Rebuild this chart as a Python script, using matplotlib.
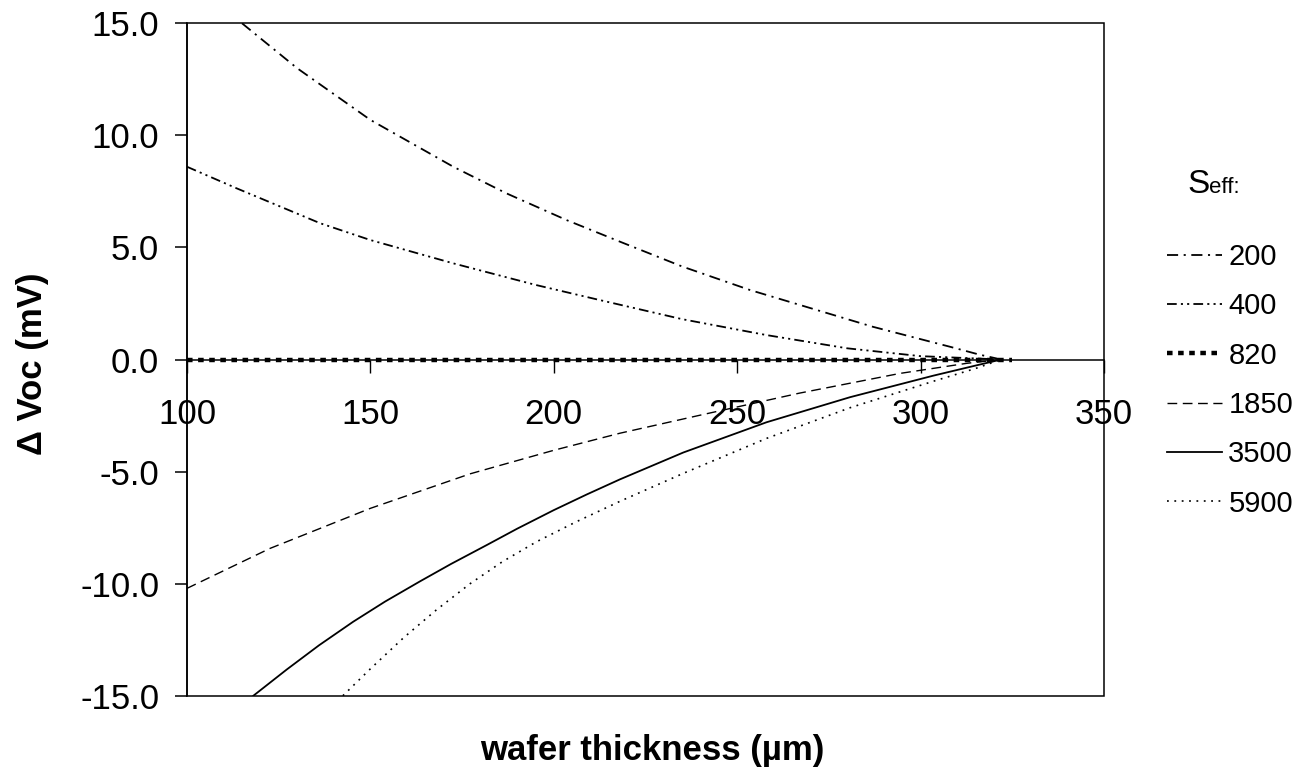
import matplotlib
matplotlib.use("Agg")
import matplotlib.pyplot as plt
from matplotlib.patches import Rectangle

plt.rcParams['font.family'] = ['Liberation Sans', 'DejaVu Sans']
plt.rcParams['lines.scale_dashes'] = False

# Delta Voc (mV) versus wafer thickness (um) for each effective surface recombination velocity
t_200 = [115, 130, 150, 172.6, 187, 203.5, 218, 235, 253.5, 287, 308, 316, 322]
v_200 = [15.0, 13.0, 10.69, 8.60, 7.42, 6.22, 5.26, 4.15, 3.10, 1.46, 0.57, 0.22, 0.0]

t_400 = [100, 113.5, 136.3, 150, 172.6, 195, 212.6, 235, 258, 280, 300, 322]
v_400 = [8.60, 7.64, 6.08, 5.33, 4.29, 3.33, 2.65, 1.80, 1.09, 0.50, 0.15, 0.0]

t_820 = [100, 325]
v_820 = [0.0, 0.0]

t_1850 = [100, 122.6, 150, 177.2, 200, 218, 240, 267, 294.4, 312.6, 322]
v_1850 = [-10.21, -8.43, -6.64, -5.10, -4.05, -3.29, -2.48, -1.50, -0.62, -0.17, 0.0]

t_3500 = [118.1, 127.2, 136, 145.3, 154, 163.5, 172, 181.7, 190, 200, 209, 218,
          235.3, 258, 280.8, 303.5, 315, 322]
v_3500 = [-15.0, -13.83, -12.75, -11.70, -10.80, -9.90, -9.12, -8.28, -7.55, -6.72, -6.02, -5.35,
          -4.15, -2.80, -1.68, -0.72, -0.27, 0.0]

t_5900 = [142.5, 150, 159, 168, 177.2, 186, 195.3, 206, 218, 235.3, 258, 280.8, 303.5, 315, 322]
v_5900 = [-15.0, -13.80, -12.42, -11.17, -10.0, -9.02, -8.13, -7.25, -6.33, -5.08, -3.52, -2.15,
          -0.97, -0.40, 0.0]

labels = ['200', '400', '820', '1850', '3500', '5900']
x_ticks = [100, 150, 200, 250, 300, 350]
y_ticks = [-15, -10, -5, 0, 5, 10, 15]

series = [(t_200, v_200), (t_400, v_400), (t_820, v_820),
          (t_1850, v_1850), (t_3500, v_3500), (t_5900, v_5900)]
styles = [
    dict(lw=1.3, dashes=(8, 4, 1.5, 4)),
    dict(lw=1.3, dashes=(7, 3, 1.5, 3, 1.5, 3)),
    dict(lw=3.2, dashes=(4, 4)),
    dict(lw=1.0, dashes=(7, 4)),
    dict(lw=1.3, linestyle='-'),
    dict(lw=1.2, dashes=(1.3, 4)),
]

fig = plt.figure(figsize=(13.15, 7.79), dpi=100)
ax = fig.add_axes([0.1422, 0.1069, 0.6973, 0.8632])

handles = []
for (t, v), st, lab in zip(series, styles, labels):
    line, = ax.plot(t, v, color='black', label=lab, **st)
    handles.append(line)

ax.set_xlim(100, 350)
ax.set_ylim(-15, 15)
ax.set_xticks(x_ticks)
ax.set_yticks(y_ticks)
ax.set_yticklabels(['%.1f' % y for y in y_ticks])

# x axis runs along zero, frame drawn as a box
ax.spines['bottom'].set_position(('data', 0))
for s in ['top', 'right']:
    ax.spines[s].set_visible(False)
for s in ['bottom', 'left']:
    ax.spines[s].set_linewidth(1.1)
ax.add_patch(Rectangle((0, 0), 1, 1, transform=ax.transAxes, fill=False,
                       lw=1.1, edgecolor='black', clip_on=False, zorder=3))

ax.tick_params(axis='x', direction='out', length=9, width=1.0, labelsize=25, pad=19)
ax.tick_params(axis='y', direction='out', length=9, width=1.1, labelsize=25, pad=11)

fig.text(0.025, 0.533, 'Δ Voc (mV)', rotation=90, ha='center', va='center',
         fontsize=25, fontweight='bold')
fig.text(0.496, 0.036, 'wafer thickness (µm)', ha='center', va='center',
         fontsize=25, fontweight='bold')

# legend with the title built from two pieces
fig.text(0.9027, 0.752, 'S', fontsize=24, ha='left', va='baseline')
fig.text(0.9196, 0.752, 'eff:', fontsize=16, ha='left', va='baseline')
ax.legend(handles, labels, loc='upper left', bbox_to_anchor=(0.8875, 0.688),
          bbox_transform=fig.transFigure, frameon=False, fontsize=21,
          handlelength=1.9, handletextpad=0.2, labelspacing=0.73,
          borderaxespad=0, borderpad=0)

fig.savefig('out.png', dpi=100)
